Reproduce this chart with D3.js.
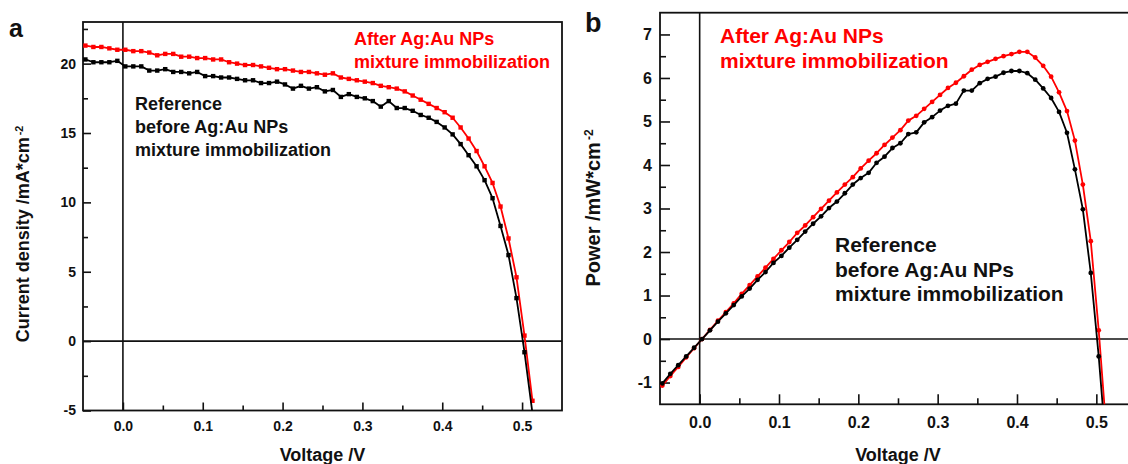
<!DOCTYPE html>
<html>
<head>
<meta charset="utf-8">
<script src="https://cdn.jsdelivr.net/npm/d3@7"></script>
<style>
  body { margin: 0; background: #fff; }
  svg { display: block; font-family: "Liberation Sans", Arial, sans-serif; font-weight: bold; }
</style>
</head>
<body>
<div id="chart"></div>
<script>
// voltage of each measured point (V)
const voltage = [-0.047, -0.037, -0.027, -0.017, -0.007, 0.003, 0.013, 0.023, 0.033, 0.043,
  0.053, 0.063, 0.073, 0.083, 0.093, 0.103, 0.113, 0.123, 0.133, 0.143,
  0.153, 0.163, 0.173, 0.183, 0.193, 0.203, 0.213, 0.223, 0.233, 0.243,
  0.253, 0.263, 0.273, 0.283, 0.293, 0.303, 0.313, 0.323, 0.333, 0.343,
  0.353, 0.363, 0.373, 0.383, 0.393, 0.403, 0.413, 0.423, 0.433, 0.443,
  0.453, 0.463, 0.473, 0.483, 0.493, 0.503, 0.513]

// current density (mA/cm2)
const jReference = [20.3, 20.1, 20.1, 20.1, 20.2, 19.8, 19.8, 19.8, 19.5, 19.5,
  19.6, 19.4, 19.4, 19.3, 19.4, 19.1, 19.1, 19.0, 19.0, 18.9,
  18.8, 18.8, 18.6, 18.6, 18.7, 18.5, 18.2, 18.4, 18.2, 18.3,
  18.0, 18.1, 17.6, 17.8, 17.6, 17.5, 17.3, 16.9, 17.3, 16.8,
  16.8, 16.6, 16.3, 16.1, 15.8, 15.4, 14.9, 14.2, 13.4, 12.6,
  11.6, 10.3, 8.3, 6.2, 3.1, -0.8, -5.2]
const jAfter = [21.3, 21.2, 21.2, 21.1, 21.0, 21.0, 20.9, 20.9, 20.8, 20.6,
  20.7, 20.7, 20.5, 20.5, 20.4, 20.4, 20.3, 20.3, 20.1, 20.0,
  19.9, 19.9, 19.8, 19.7, 19.6, 19.6, 19.5, 19.4, 19.4, 19.3,
  19.2, 19.3, 19.0, 18.9, 18.8, 18.7, 18.6, 18.4, 18.3, 18.2,
  18.0, 17.7, 17.4, 17.1, 16.8, 16.5, 16.1, 15.4, 14.6, 13.7,
  12.6, 11.4, 9.7, 7.4, 4.6, 0.4, -4.3]

// power density (mW/cm2)
const pReference = [-1.02, -0.80, -0.60, -0.40, -0.20, 0.0, 0.20, 0.40, 0.59, 0.78,
  0.98, 1.16, 1.36, 1.54, 1.75, 1.91, 2.10, 2.28, 2.47, 2.65,
  2.82, 3.01, 3.16, 3.35, 3.55, 3.70, 3.82, 4.05, 4.19, 4.39,
  4.50, 4.71, 4.75, 4.98, 5.10, 5.25, 5.36, 5.41, 5.71, 5.71,
  5.88, 5.98, 6.03, 6.12, 6.16, 6.16, 6.11, 5.96, 5.76, 5.54,
  5.22, 4.74, 3.90, 2.98, 1.52, -0.40, -2.65]
const pAfter = [-1.07, -0.85, -0.64, -0.42, -0.21, 0.0, 0.21, 0.42, 0.62, 0.82,
  1.04, 1.24, 1.44, 1.64, 1.84, 2.04, 2.23, 2.44, 2.61, 2.80,
  2.99, 3.18, 3.37, 3.55, 3.72, 3.92, 4.10, 4.27, 4.46, 4.63,
  4.80, 5.02, 5.13, 5.29, 5.45, 5.61, 5.77, 5.89, 6.04, 6.19,
  6.30, 6.37, 6.44, 6.50, 6.55, 6.60, 6.60, 6.47, 6.28, 6.03,
  5.67, 5.24, 4.56, 3.55, 2.25, 0.20, -2.19]

const voltageTicks = [0.0, 0.1, 0.2, 0.3, 0.4, 0.5]
const voltageMinor = [0.05, 0.15, 0.25, 0.35, 0.45]
const jTicks = [-5, 0, 5, 10, 15, 20]
const jMinor = [-2.5, 2.5, 7.5, 12.5, 17.5, 22.5]
const pTicks = [-1, 0, 1, 2, 3, 4, 5, 6, 7]
const pMinor = [-0.5, 0.5, 1.5, 2.5, 3.5, 4.5, 5.5, 6.5]

const width = 1128
const height = 464

const svg = d3.select('#chart')
  .append('svg')
  .attr('width', width)
  .attr('height', height)

svg.append('rect').attr('width', width).attr('height', height).attr('fill', 'white')

const drawPanel = (cfg) => {
  const x = d3.scaleLinear().domain([-0.05, 0.55]).range([cfg.left, cfg.right])
  const y = d3.scaleLinear().domain(cfg.yDomain).range([cfg.bottom, cfg.top])
  const g = svg.append('g')

  const clipId = 'clip-' + cfg.name
  g.append('clipPath').attr('id', clipId)
    .append('rect')
    .attr('x', cfg.left).attr('y', cfg.top)
    .attr('width', cfg.right - cfg.left).attr('height', cfg.bottom - cfg.top)

  // zero lines
  g.append('line')
    .attr('x1', x(0)).attr('x2', x(0)).attr('y1', cfg.top).attr('y2', cfg.bottom)
    .attr('stroke', '#111').attr('stroke-width', 1.6)
  g.append('line')
    .attr('x1', cfg.left).attr('x2', cfg.right).attr('y1', y(0)).attr('y2', y(0))
    .attr('stroke', '#111').attr('stroke-width', 1.6)

  // axes, ticks inside
  const xAxis = g.append('g')
    .attr('transform', `translate(0,${cfg.bottom})`)
    .call(d3.axisBottom(x).tickValues(voltageTicks).tickSize(-cfg.major)
      .tickPadding(cfg.xPad).tickFormat(d => d.toFixed(1)))
  const xMinor = g.append('g')
    .attr('transform', `translate(0,${cfg.bottom})`)
    .call(d3.axisBottom(x).tickValues(voltageMinor).tickSize(-cfg.minor).tickFormat(''))
  const yAxis = g.append('g')
    .attr('transform', `translate(${cfg.left},0)`)
    .call(d3.axisLeft(y).tickValues(cfg.yTicks).tickSize(-cfg.major)
      .tickPadding(cfg.yPad).tickFormat(d => String(d)))
  const yMinor = g.append('g')
    .attr('transform', `translate(${cfg.left},0)`)
    .call(d3.axisLeft(y).tickValues(cfg.yMinor).tickSize(-cfg.minor).tickFormat(''))

  ;[xAxis, xMinor, yAxis, yMinor].forEach(a => {
    a.select('.domain').remove()
    a.selectAll('line').attr('stroke', '#111').attr('stroke-width', 1.6)
    a.selectAll('text')
      .attr('font-family', '"Liberation Sans", Arial, sans-serif')
      .attr('font-weight', 'bold')
      .attr('font-size', cfg.tickFont)
      .attr('fill', '#111')
  })

  // frame
  g.append('rect')
    .attr('x', cfg.left).attr('y', cfg.top)
    .attr('width', cfg.right - cfg.left).attr('height', cfg.bottom - cfg.top)
    .attr('fill', 'none').attr('stroke', '#111').attr('stroke-width', 1.8)

  // series
  const plot = g.append('g').attr('clip-path', `url(#${clipId})`)
  cfg.series.forEach(s => {
    const pts = voltage.map((v, i) => [v, s.values[i]])
    plot.append('path')
      .datum(pts)
      .attr('fill', 'none')
      .attr('stroke', s.color)
      .attr('stroke-width', 1.8)
      .attr('stroke-linejoin', 'round')
      .attr('d', d3.line().x(d => x(d[0])).y(d => y(d[1])))
    if (cfg.marker === 'square') {
      plot.selectAll(null)
        .data(pts)
        .join('rect')
        .attr('x', d => x(d[0]) - 2.2)
        .attr('y', d => y(d[1]) - 2.2)
        .attr('width', 4.4)
        .attr('height', 4.4)
        .attr('fill', s.color)
    } else {
      plot.selectAll(null)
        .data(pts)
        .join('circle')
        .attr('cx', d => x(d[0]))
        .attr('cy', d => y(d[1]))
        .attr('r', 2.4)
        .attr('fill', s.color)
    }
  })

  // axis titles
  g.append('text')
    .attr('x', (cfg.left + cfg.right) / 2)
    .attr('y', cfg.xTitleY)
    .attr('text-anchor', 'middle')
    .attr('font-size', 18)
    .attr('fill', '#111')
    .text('Voltage /V')

  const yTitle = g.append('text')
    .attr('transform', `translate(${cfg.yTitleX},${cfg.yTitleY}) rotate(-90)`)
    .attr('text-anchor', 'middle')
    .attr('font-size', cfg.yTitleFont)
    .attr('fill', '#111')
  yTitle.append('tspan').text(cfg.yTitle)
  yTitle.append('tspan').attr('dy', '-0.6em').attr('dx', 2).attr('font-size', cfg.yTitleFont * 0.6).text('-2')

  // panel letter
  g.append('text')
    .attr('x', cfg.letterX).attr('y', cfg.letterY)
    .attr('font-size', cfg.letterFont)
    .attr('fill', '#111')
    .text(cfg.name)

  // annotations
  const note = (lines, px, py, color, size, gap) => {
    g.append('text')
      .attr('font-size', size)
      .attr('fill', color)
      .selectAll('tspan')
      .data(lines)
      .join('tspan')
      .attr('x', px)
      .attr('y', (d, i) => py + i * gap)
      .text(d => d)
  }
  note(['After Ag:Au NPs', 'mixture immobilization'], cfg.redX, cfg.redY, '#ff0000', cfg.noteFont, cfg.noteGap)
  note(['Reference', 'before Ag:Au NPs', 'mixture immobilization'], cfg.blackX, cfg.blackY, '#111', cfg.noteFont, cfg.noteGap)
}

drawPanel({
  name: 'a',
  left: 83, right: 562, top: 22, bottom: 410.5,
  yDomain: [-5, 23], yTicks: jTicks, yMinor: jMinor,
  major: 8, minor: 5, xPad: 11, yPad: 7, tickFont: 14,
  marker: 'square',
  series: [{ values: jAfter, color: '#ff0000' }, { values: jReference, color: '#000' }],
  xTitleY: 461,
  yTitle: 'Current density /mA*cm', yTitleX: 29, yTitleY: 234, yTitleFont: 18,
  letterX: 9, letterY: 37, letterFont: 25,
  redX: 354, redY: 45, blackX: 135, blackY: 110, noteFont: 18, noteGap: 23
})

drawPanel({
  name: 'b',
  left: 660, right: 1136, top: 12.7, bottom: 404.3,
  yDomain: [-1.5, 7.5], yTicks: pTicks, yMinor: pMinor,
  major: 10, minor: 6, xPad: 12, yPad: 8, tickFont: 16,
  marker: 'circle',
  series: [{ values: pAfter, color: '#ff0000' }, { values: pReference, color: '#000' }],
  xTitleY: 461,
  yTitle: 'Power /mW*cm', yTitleX: 600, yTitleY: 208, yTitleFont: 20,
  letterX: 585, letterY: 32, letterFont: 27,
  redX: 720, redY: 43, blackX: 835, blackY: 252, noteFont: 21, noteGap: 24.5
})
</script>
</body>
</html>
